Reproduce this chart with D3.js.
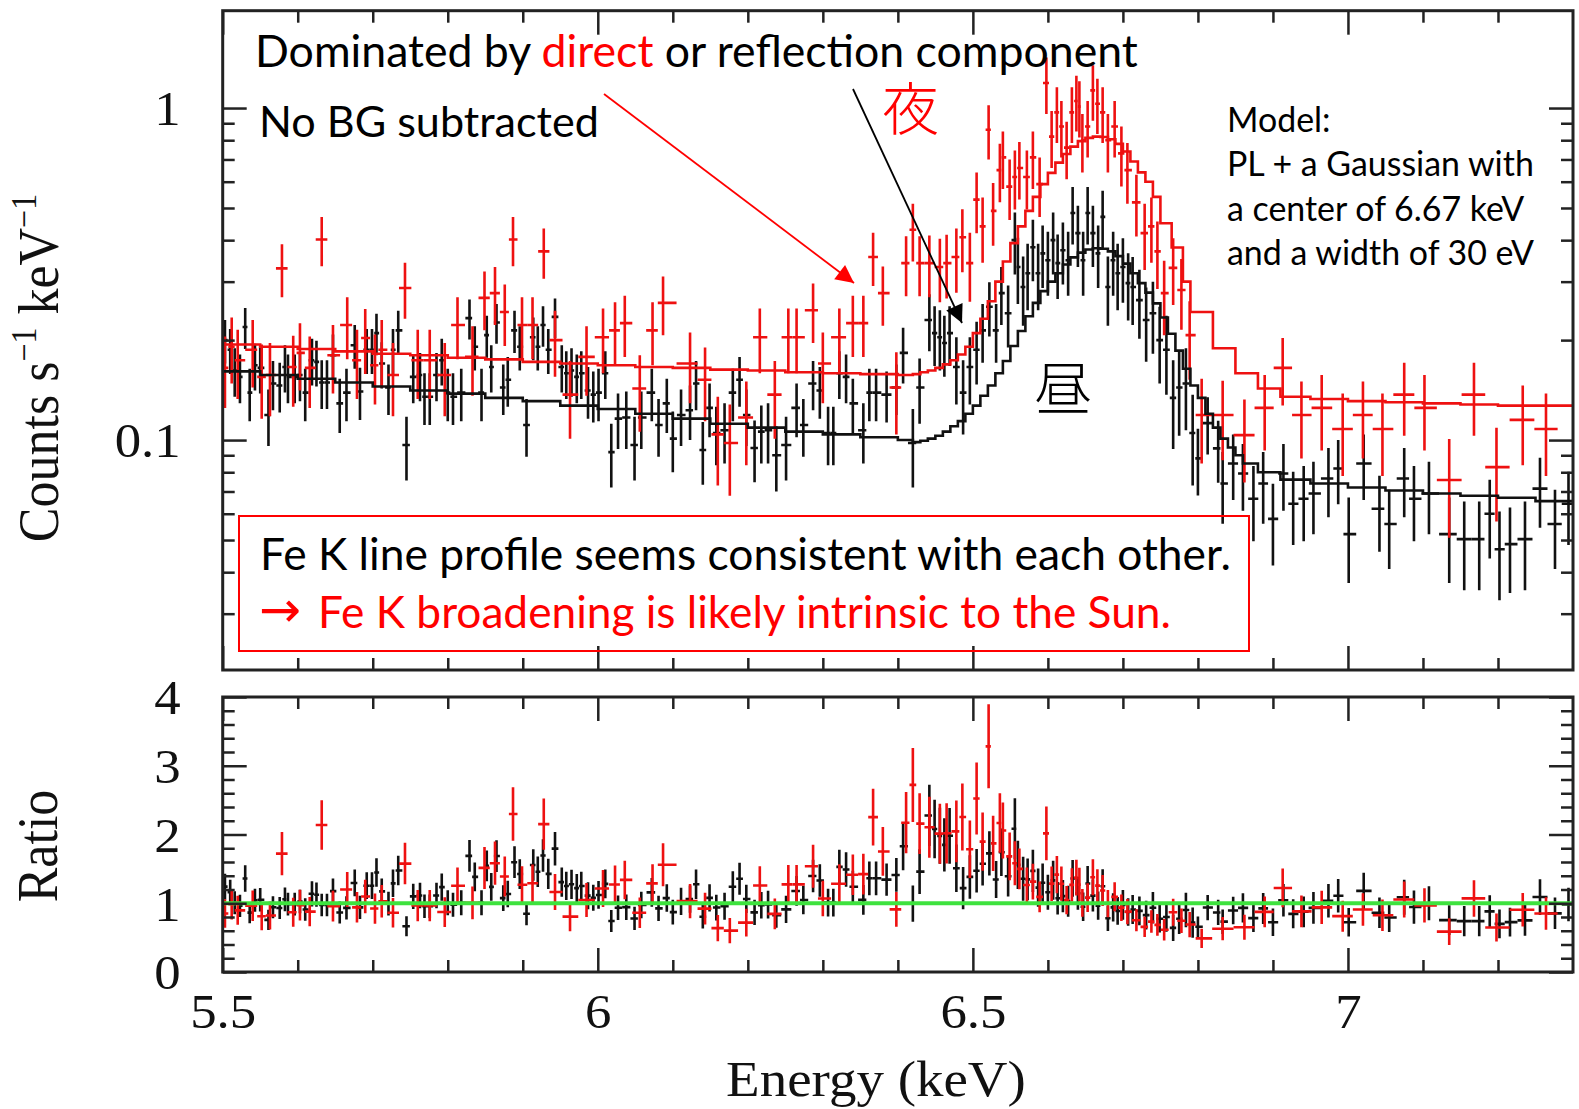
<!DOCTYPE html>
<html>
<head>
<meta charset="utf-8">
<script src="https://cdn.jsdelivr.net/npm/d3@7"></script>
<style>
  body { margin: 0; background: #fff; }
  svg { display: block; }
</style>
</head>
<body>
<svg id="chart" width="1579" height="1109"></svg>
<script>
// ---- data ----
// black = day (昼), red = night (夜); energies in keV, counts s^-1 keV^-1
const blackE = [
  5.503,5.510,5.516,5.523,5.530,5.536,5.543,5.550,5.561,5.567,
  5.576,5.583,5.587,5.596,5.603,5.610,5.619,5.625,5.632,5.639,
  5.647,5.656,5.665,5.676,5.683,5.692,5.699,5.705,5.712,5.721,
  5.727,5.734,5.745,5.754,5.763,5.769,5.776,5.785,5.792,5.800,
  5.807,5.818,5.829,5.836,5.845,5.852,5.858,5.865,5.874,5.880,
  5.889,5.896,5.905,5.914,5.920,5.927,5.934,5.943,5.952,5.958,
  5.965,5.972,5.978,5.987,5.994,6.001,6.010,6.018,6.027,6.038,
  6.049,6.058,6.072,6.081,6.092,6.100,6.111,6.123,6.131,
  6.140,6.149,6.158,6.169,6.180,6.189,6.198,6.209,6.218,6.227,
  6.238,6.251,6.265,6.274,6.287,6.296,6.307,6.314,6.322,6.331,
  6.340,6.354,6.362,6.371,6.385,6.398,6.407,6.420,6.429,6.442,
  6.449,6.456,6.462,6.469,6.478,6.487,6.496,6.505,6.513,6.522,
  6.531,6.538,6.547,6.556,6.560,6.567,6.573,6.580,6.587,6.593,
  6.600,6.607,6.613,6.620,6.627,6.633,6.640,6.647,6.653,6.660,
  6.667,6.673,6.680,6.687,6.693,6.700,6.707,6.713,6.722,6.731,
  6.740,6.749,6.758,6.767,6.775,6.784,6.793,
  6.800,6.813,6.827,6.833,6.847,6.860,6.874,6.887,6.900,6.914,
  6.927,6.941,6.954,6.974,6.987,7.001,7.021,7.042,7.055,7.075,
  7.088,7.108,7.135,7.155,7.175,7.189,7.202,7.216,7.236,7.256,
  7.276,7.294
];
const blackY = [
  0.200,0.187,0.162,0.155,0.219,0.139,0.168,0.165,0.119,0.148,
  0.146,0.166,0.155,0.155,0.157,0.139,0.174,0.172,0.149,0.149,
  0.180,0.129,0.139,0.193,0.140,0.187,0.187,0.210,0.170,0.144,
  0.187,0.214,0.0966,0.155,0.157,0.135,0.135,0.157,0.174,0.139,
  0.135,0.139,0.233,0.191,0.139,0.207,0.166,0.226,0.144,0.152,
  0.214,0.191,0.111,0.204,0.191,0.222,0.187,0.235,0.166,0.159,
  0.162,0.155,0.159,0.141,0.137,0.139,0.159,0.092,0.116,0.117,
  0.0966,0.117,0.139,0.111,0.129,0.101,0.119,0.123,0.148,
  0.0933,0.125,0.105,0.107,0.139,0.152,0.119,0.0946,0.106,0.107,
  0.090,0.0966,0.125,0.111,0.148,0.141,0.105,0.105,0.159,0.155,
  0.129,0.107,0.139,0.139,0.137,0.144,0.183,0.098,0.144,0.230,
  0.210,0.204,0.196,0.210,0.166,0.139,0.166,0.187,0.214,0.252,
  0.214,0.277,0.241,0.400,0.332,0.289,0.318,0.381,0.318,0.365,
  0.348,0.400,0.341,0.373,0.348,0.483,0.420,0.348,0.483,0.420,
  0.365,0.470,0.289,0.348,0.318,0.332,0.297,0.289,0.264,0.230,
  0.241,0.200,0.187,0.134,0.144,0.148,0.105,
  0.0881,0.1125,0.0944,0.0740,0.0850,0.0793,0.0666,0.0740,0.0579,0.0793,
  0.0643,0.0666,0.0690,0.0766,0.0821,0.0521,0.0850,0.0621,0.0559,0.0766,
  0.0666,0.0690,0.0521,0.0503,0.0503,0.0600,0.0469,0.0486,0.0503,0.0714,
  0.0559,0.0643
];
const blackErr = [
  0.030,0.029,0.027,0.026,0.031,0.025,0.027,0.027,0.023,0.025,
  0.025,0.027,0.026,0.026,0.026,0.025,0.028,0.027,0.025,0.025,
  0.028,0.024,0.025,0.029,0.025,0.029,0.029,0.030,0.027,0.025,
  0.029,0.031,0.021,0.026,0.026,0.024,0.024,0.026,0.028,0.025,
  0.024,0.025,0.032,0.029,0.025,0.030,0.027,0.031,0.025,0.026,
  0.031,0.029,0.022,0.030,0.029,0.031,0.029,0.032,0.027,0.026,
  0.027,0.026,0.026,0.025,0.024,0.025,0.026,0.020,0.022,0.023,
  0.021,0.023,0.025,0.022,0.024,0.021,0.023,0.023,0.025,
  0.020,0.023,0.021,0.022,0.025,0.026,0.023,0.020,0.021,0.022,
  0.020,0.021,0.023,0.022,0.025,0.025,0.021,0.021,0.026,0.026,
  0.024,0.022,0.025,0.025,0.024,0.025,0.035,0.026,0.032,0.045,
  0.043,0.042,0.041,0.043,0.038,0.035,0.038,0.040,0.043,0.047,
  0.043,0.055,0.051,0.085,0.075,0.068,0.072,0.080,0.072,0.078,
  0.076,0.085,0.075,0.079,0.076,0.095,0.088,0.076,0.095,0.088,
  0.078,0.093,0.068,0.076,0.072,0.073,0.068,0.067,0.062,0.058,
  0.059,0.052,0.050,0.040,0.041,0.041,0.032,
  0.020,0.022,0.020,0.018,0.019,0.018,0.017,0.018,0.016,0.018,
  0.016,0.017,0.017,0.018,0.018,0.015,0.019,0.016,0.015,0.018,
  0.017,0.017,0.015,0.015,0.015,0.016,0.014,0.014,0.015,0.017,
  0.015,0.016
];

const redE = [
  5.503,5.512,5.520,5.540,5.552,5.563,5.579,5.594,5.603,5.616,
  5.632,5.647,5.666,5.679,5.690,5.703,5.712,5.727,5.743,5.760,
  5.776,5.796,5.813,5.833,5.849,5.863,5.876,5.887,5.899,5.913,
  5.928,5.943,5.963,5.985,6.007,6.023,6.036,6.056,6.073,6.087,
  6.123,
  6.143,6.160,6.176,6.198,6.216,6.236,6.254,6.265,6.287,6.300,
  6.322,6.340,6.354,6.367,6.380,6.398,6.411,6.420,6.429,6.442,
  6.456,6.465,
  6.478,6.486,6.496,6.505,6.513,6.521,6.527,6.536,6.540,6.549,
  6.556,6.562,6.572,6.580,6.589,6.598,6.605,6.612,6.618,6.625,
  6.632,6.638,6.642,6.646,6.653,6.660,6.666,6.673,6.680,6.689,
  6.698,6.706,6.718,6.729,6.738,6.746,6.755,6.767,6.778,6.789,
  6.805,6.833,6.862,6.889,6.913,6.938,6.965,6.993,7.020,7.046,
  7.075,7.102,7.135,7.168,7.198,7.233,7.264
];
const redY = [
  0.165,0.191,0.174,0.187,0.155,0.157,0.329,0.166,0.183,0.165,
  0.402,0.180,0.222,0.174,0.203,0.168,0.187,0.157,0.287,0.174,
  0.174,0.157,0.222,0.178,0.268,0.277,0.243,0.402,0.222,0.222,
  0.370,0.200,0.137,0.178,0.204,0.214,0.225,0.143,0.214,0.259,
  0.170,
  0.152,0.104,0.098,0.117,0.204,0.137,0.204,0.204,0.246,0.170,
  0.204,0.225,0.225,0.356,0.277,0.144,0.341,0.430,0.341,0.341,
  0.332,0.341,
  0.356,0.408,0.341,0.530,0.440,0.860,0.490,0.650,0.710,0.580,
  0.620,0.660,0.620,0.710,0.590,1.190,0.820,0.970,0.880,0.760,
  0.970,1.050,1.010,0.800,0.880,1.130,1.030,0.970,0.800,0.880,
  0.730,0.650,0.520,0.420,0.440,0.370,0.277,0.330,0.283,0.207,
  0.119,0.119,0.1035,0.125,0.165,0.119,0.125,0.108,0.119,0.108,
  0.137,0.125,0.0758,0.137,0.0829,0.115,0.108
];
const redErr = [
  0.040,0.043,0.041,0.043,0.039,0.039,0.060,0.040,0.042,0.040,
  0.068,0.042,0.047,0.041,0.045,0.040,0.043,0.039,0.055,0.041,
  0.041,0.039,0.047,0.042,0.054,0.055,0.051,0.068,0.047,0.047,
  0.064,0.045,0.036,0.042,0.045,0.046,0.047,0.037,0.046,0.052,
  0.041,
  0.038,0.031,0.030,0.033,0.045,0.036,0.045,0.045,0.050,0.041,
  0.045,0.047,0.047,0.065,0.056,0.040,0.070,0.085,0.070,0.072,
  0.072,0.074,
  0.078,0.088,0.080,0.110,0.098,0.160,0.105,0.130,0.140,0.120,
  0.125,0.130,0.125,0.140,0.120,0.230,0.160,0.185,0.170,0.150,
  0.185,0.200,0.195,0.160,0.170,0.215,0.195,0.185,0.160,0.170,
  0.150,0.135,0.110,0.095,0.098,0.085,0.070,0.075,0.068,0.055,
  0.034,0.032,0.029,0.032,0.038,0.031,0.032,0.030,0.031,0.030,
  0.034,0.032,0.025,0.034,0.026,0.031,0.030
];

// model (PL + Gaussian) as drawn, step start energies and levels
const blackModelE = [
  5.50,5.55,5.60,5.65,5.70,5.75,5.80,5.85,5.90,5.95,
  6.00,6.05,6.10,6.15,6.20,6.25,6.30,6.35,6.40,6.42,
  6.43,6.44,6.45,6.46,6.47,6.48,6.49,6.50,6.51,6.52,
  6.53,6.54,6.55,6.56,6.57,6.58,6.59,6.60,6.61,6.62,
  6.63,6.64,6.65,6.66,6.67,6.68,6.69,6.70,6.71,6.72,
  6.73,6.74,6.75,6.76,6.77,6.78,6.79,6.80,6.81,6.82,
  6.83,6.84,6.85,6.86,6.88,6.91,6.95,7.00,7.05,7.10,
  7.15,7.20,7.25
];
const blackModelY = [
  0.161,0.157,0.153,0.149,0.145,0.141,0.138,0.134,0.131,0.127,
  0.124,0.120,0.116,0.112,0.109,0.106,0.104,0.102,0.100,0.0986,
  0.0995,0.101,0.103,0.106,0.110,0.114,0.120,0.127,0.136,0.146,
  0.159,0.173,0.192,0.213,0.236,0.259,0.281,0.300,0.318,0.338,
  0.355,0.367,0.375,0.378,0.377,0.370,0.358,0.340,0.318,0.297,
  0.278,0.258,0.234,0.209,0.186,0.164,0.146,0.134,0.120,0.109,
  0.101,0.095,0.090,0.085,0.080,0.076,0.074,0.072,0.0705,0.069,
  0.068,0.067,0.0655
];
const redModelE = [
  5.50,5.55,5.60,5.65,5.70,5.75,5.80,5.85,5.90,5.95,
  6.00,6.05,6.10,6.15,6.20,6.25,6.30,6.35,6.40,6.42,
  6.43,6.44,6.45,6.46,6.47,6.48,6.49,6.50,6.51,6.52,
  6.53,6.54,6.55,6.56,6.57,6.58,6.59,6.60,6.61,6.62,
  6.63,6.64,6.65,6.66,6.67,6.68,6.69,6.70,6.71,6.72,
  6.73,6.74,6.75,6.765,6.78,6.79,6.82,6.85,6.88,6.91,
  6.95,7.00,7.05,7.10,7.15,7.20,7.25
];
const redModelY = [
  0.194,0.191,0.188,0.185,0.182,0.180,0.177,0.175,0.172,0.170,
  0.168,0.166,0.165,0.163,0.162,0.160,0.159,0.158,0.157,0.158,
  0.160,0.162,0.165,0.169,0.174,0.181,0.191,0.210,0.232,0.262,
  0.300,0.345,0.392,0.440,0.490,0.540,0.590,0.638,0.685,0.727,
  0.765,0.795,0.813,0.820,0.818,0.805,0.780,0.740,0.690,0.640,
  0.600,0.540,0.450,0.380,0.300,0.243,0.189,0.159,0.143,0.135,
  0.133,0.131,0.130,0.129,0.128,0.127,0.127
];

// axis ticks
const xMajorTicks = [5.5, 6, 6.5, 7];
const xTickLabels = ["5.5", "6", "6.5", "7"];
const xMinorTicks = [5.6,5.7,5.8,5.9,6.1,6.2,6.3,6.4,6.6,6.7,6.8,6.9,7.1,7.2];
const countMajorTicks = [0.1, 1];
const countTickLabels = ["0.1", "1"];
const countMinorTicks = [0.03,0.04,0.05,0.06,0.07,0.08,0.09,0.2,0.3,0.4,0.5,0.6,0.7,0.8,0.9];
const ratioMajorTicks = [0, 1, 2, 3, 4];
const ratioTickLabels = ["0", "1", "2", "3", "4"];
const ratioMinorTicks = [0.2,0.4,0.6,0.8,1.2,1.4,1.6,1.8,2.2,2.4,2.6,2.8,3.2,3.4,3.6,3.8];

function buildChart() {
  const svg = d3.select("#chart");
  const left = 222.7, right = 1573;
  const top1 = 10.7, bottom1 = 670, top2 = 697, bottom2 = 972;
  const serif = "'Liberation Serif', 'DejaVu Serif', serif";
  const sans = "Lato, 'Open Sans', sans-serif";
  const RED = "#ee1111", BLACK = "#111", AXIS = "#222";

  const x = d3.scaleLinear().domain([5.5, 7.3]).range([left, right]);
  const yCounts = d3.scaleLog().domain([0.0203, 1.964]).range([bottom1, top1]);
  const yRatio = d3.scaleLinear().domain([0, 4]).range([bottom2, top2]);

  // bins: edges halfway between neighbouring centres, ratio = data / model
  function makeSeries(E, Y, ERR, mE, mY) {
    return E.map((e, i) => {
      const lo = i === 0 ? e - (E[1] - e) / 2 : (E[i - 1] + e) / 2;
      const hi = i === E.length - 1 ? e + (e - E[i - 1]) / 2 : (e + E[i + 1]) / 2;
      const m = mY[Math.max(0, d3.bisectRight(mE, e) - 1)];
      return { e, lo, hi, y: Y[i], err: ERR[i], ratio: Y[i] / m, rErr: ERR[i] / m };
    });
  }
  const black = makeSeries(blackE, blackY, blackErr, blackModelE, blackModelY);
  const red = makeSeries(redE, redY, redErr, redModelE, redModelY);

  const defs = svg.append("defs");
  defs.append("clipPath").attr("id", "clipTop").append("rect")
    .attr("x", left).attr("y", top1).attr("width", right - left).attr("height", bottom1 - top1);
  defs.append("clipPath").attr("id", "clipBottom").append("rect")
    .attr("x", left).attr("y", top2).attr("width", right - left).attr("height", bottom2 - top2);

  const topPlot = svg.append("g").attr("clip-path", "url(#clipTop)");
  const botPlot = svg.append("g").attr("clip-path", "url(#clipBottom)");

  function drawCrosses(g, data, yS, key, errKey, color) {
    g.append("g").selectAll("path")
      .data(data)
      .join("path")
      .attr("d", (d) => `M${x(d.lo)},${yS(d[key])}H${x(d.hi)}M${x(d.e)},${yS(d[key] - d[errKey])}V${yS(d[key] + d[errKey])}`)
      .attr("fill", "none")
      .attr("stroke", color)
      .attr("stroke-width", 2.6);
  }

  function drawModel(g, mE, mY, color) {
    const pts = mE.map((e, i) => [e, mY[i]]).concat([[7.3, mY[mY.length - 1]]]);
    g.append("path")
      .attr("d", d3.line().x((d) => x(d[0])).y((d) => yCounts(d[1])).curve(d3.curveStepAfter)(pts))
      .attr("fill", "none")
      .attr("stroke", color)
      .attr("stroke-width", 2.6);
  }

  // top panel
  drawCrosses(topPlot, black, yCounts, "y", "err", BLACK);
  drawCrosses(topPlot, red, yCounts, "y", "err", RED);
  drawModel(topPlot, blackModelE, blackModelY, BLACK);
  drawModel(topPlot, redModelE, redModelY, RED);

  // ratio panel
  drawCrosses(botPlot, black, yRatio, "ratio", "rErr", BLACK);
  drawCrosses(botPlot, red, yRatio, "ratio", "rErr", RED);
  botPlot.append("line")
    .attr("x1", left).attr("x2", right)
    .attr("y1", yRatio(1)).attr("y2", yRatio(1))
    .attr("stroke", "#3ee23e")
    .attr("stroke-width", 4);

  // ticks (all pointing inward)
  function ticks(axisFn, scale, values, size, transform) {
    return svg.append("g")
      .attr("transform", transform)
      .call(axisFn(scale).tickValues(values).tickSize(-size).tickFormat(""))
      .call((a) => a.select(".domain").remove())
      .call((a) => a.selectAll("line").attr("stroke", AXIS).attr("stroke-width", 2.5));
  }
  [[top1, bottom1], [top2, bottom2]].forEach(([t, b]) => {
    ticks(d3.axisBottom, x, xMajorTicks, 24, `translate(0,${b})`);
    ticks(d3.axisBottom, x, xMinorTicks, 12, `translate(0,${b})`);
    ticks(d3.axisTop, x, xMajorTicks, 24, `translate(0,${t})`);
    ticks(d3.axisTop, x, xMinorTicks, 12, `translate(0,${t})`);
  });
  ticks(d3.axisLeft, yCounts, countMajorTicks, 24, `translate(${left},0)`);
  ticks(d3.axisLeft, yCounts, countMinorTicks, 12, `translate(${left},0)`);
  ticks(d3.axisRight, yCounts, countMajorTicks, 24, `translate(${right},0)`);
  ticks(d3.axisRight, yCounts, countMinorTicks, 12, `translate(${right},0)`);
  ticks(d3.axisLeft, yRatio, ratioMajorTicks, 24, `translate(${left},0)`);
  ticks(d3.axisLeft, yRatio, ratioMinorTicks, 12, `translate(${left},0)`);
  ticks(d3.axisRight, yRatio, ratioMajorTicks, 24, `translate(${right},0)`);
  ticks(d3.axisRight, yRatio, ratioMinorTicks, 12, `translate(${right},0)`);

  // tick labels
  svg.append("g")
    .attr("transform", `translate(0,${bottom2})`)
    .call(d3.axisBottom(x).tickValues(xMajorTicks).tickSize(0).tickFormat((d, i) => xTickLabels[i]))
    .call((a) => a.select(".domain").remove())
    .selectAll("text")
    .attr("y", 56).attr("dy", 0)
    .attr("transform", "scale(1.1,1)")
    .attr("font-family", serif).attr("font-size", 48).attr("fill", BLACK);

  function leftLabels(scale, values, labels) {
    svg.append("g")
      .attr("transform", `translate(${left},0)`)
      .call(d3.axisLeft(scale).tickValues(values).tickSize(0).tickFormat((d, i) => labels[i]))
      .call((a) => a.select(".domain").remove())
      .selectAll("text")
      .attr("x", 0).attr("dy", "0.35em")
      .attr("transform", "translate(-42,0) scale(1.1,1)")
      .attr("font-family", serif).attr("font-size", 48).attr("fill", BLACK);
  }
  leftLabels(yCounts, countMajorTicks, countTickLabels);
  leftLabels(yRatio, ratioMajorTicks, ratioTickLabels);

  // frames
  [[top1, bottom1], [top2, bottom2]].forEach(([t, b]) => {
    svg.append("rect")
      .attr("x", left).attr("y", t).attr("width", right - left).attr("height", b - t)
      .attr("fill", "none").attr("stroke", AXIS).attr("stroke-width", 3);
  });

  // axis titles
  svg.append("text")
    .attr("transform", "translate(876,1096) scale(1.1,1)")
    .attr("text-anchor", "middle")
    .attr("font-family", serif).attr("font-size", 50).attr("fill", BLACK)
    .text("Energy (keV)");

  const yTitle = svg.append("text")
    .attr("transform", "translate(58,368) rotate(-90) scale(1,1.1)")
    .attr("text-anchor", "middle")
    .attr("font-family", serif).attr("font-size", 52).attr("fill", BLACK);
  yTitle.append("tspan").text("Counts s");
  yTitle.append("tspan").attr("font-size", 32).attr("dy", -20).text("\u22121");
  yTitle.append("tspan").attr("dy", 20).text(" keV");
  yTitle.append("tspan").attr("font-size", 32).attr("dy", -20).text("\u22121");

  svg.append("text")
    .attr("transform", "translate(57,846) rotate(-90) scale(1,1.1)")
    .attr("text-anchor", "middle")
    .attr("font-family", serif).attr("font-size", 52).attr("fill", BLACK)
    .text("Ratio");

  // annotations
  function fitWidth(sel, width) {
    const w = sel.node().getComputedTextLength();
    sel.attr("font-size", parseFloat(sel.attr("font-size")) * width / w);
    return sel;
  }

  const head = svg.append("text")
    .attr("x", 255).attr("y", 67)
    .attr("font-family", sans).attr("font-size", 40).attr("fill", "#000");
  head.append("tspan").text("Dominated by ");
  head.append("tspan").attr("fill", "#ff0000").text("direct");
  head.append("tspan").text(" or reflection component");
  fitWidth(head, 883);

  fitWidth(svg.append("text")
    .attr("x", 259).attr("y", 137)
    .attr("font-family", sans).attr("font-size", 40).attr("fill", "#000")
    .text("No BG subtracted"), 340);

  const modelLines = ["Model:", "PL + a Gaussian with", "a center of 6.67 keV", "and a width of 30 eV"];
  const modelText = svg.append("g");
  modelLines.forEach((t, i) => {
    modelText.append("text")
      .attr("x", 1227).attr("y", 132 + i * 44.3)
      .attr("font-family", sans).attr("font-size", 28).attr("fill", "#000")
      .text(t);
  });
  const probe = modelText.selectAll("text").filter((d, i) => i === 1);
  fitWidth(probe, 307);
  modelText.selectAll("text").attr("font-size", probe.attr("font-size"));

  svg.append("text")
    .attr("x", 882).attr("y", 130)
    .attr("font-family", "'Noto Sans CJK JP', sans-serif").attr("font-weight", 300)
    .attr("font-size", 57).attr("fill", "#ff0000")
    .text("夜");
  svg.append("text")
    .attr("x", 1034).attr("y", 410)
    .attr("font-family", "'Noto Sans CJK JP', sans-serif").attr("font-weight", 300)
    .attr("font-size", 58).attr("fill", "#000")
    .text("昼");

  // pointer arrows
  const arrowDefs = [["arrowRed", "#ff0000"], ["arrowBlack", "#000"]];
  arrowDefs.forEach(([id, c]) => {
    defs.append("marker")
      .attr("id", id)
      .attr("viewBox", "0 0 10 10")
      .attr("refX", 10).attr("refY", 5)
      .attr("markerUnits", "userSpaceOnUse")
      .attr("markerWidth", 22).attr("markerHeight", 18)
      .attr("orient", "auto")
      .append("path").attr("d", "M0,0L10,5L0,10Z").attr("fill", c);
  });
  svg.append("line")
    .attr("x1", 604).attr("y1", 94).attr("x2", 854).attr("y2", 283)
    .attr("stroke", "#ff0000").attr("stroke-width", 1.8)
    .attr("marker-end", "url(#arrowRed)");
  svg.append("line")
    .attr("x1", 853).attr("y1", 89).attr("x2", 962).attr("y2", 323)
    .attr("stroke", "#000").attr("stroke-width", 1.8)
    .attr("marker-end", "url(#arrowBlack)");

  // conclusion box
  svg.append("rect")
    .attr("x", 239).attr("y", 516).attr("width", 1010).attr("height", 135)
    .attr("fill", "none").attr("stroke", "#ff0000").attr("stroke-width", 2);
  fitWidth(svg.append("text")
    .attr("x", 260).attr("y", 570)
    .attr("font-family", sans).attr("font-size", 40).attr("fill", "#000")
    .text("Fe K line profile seems consistent with each other."), 971);
  fitWidth(svg.append("text")
    .attr("x", 259).attr("y", 627)
    .attr("font-family", "'DejaVu Sans', sans-serif").attr("font-size", 44).attr("fill", "#ff0000")
    .text("→"), 42);
  fitWidth(svg.append("text")
    .attr("x", 318).attr("y", 628)
    .attr("font-family", sans).attr("font-size", 40).attr("fill", "#ff0000")
    .text("Fe K broadening is likely intrinsic to the Sun."), 853);
}

buildChart();
</script>
</body>
</html>
